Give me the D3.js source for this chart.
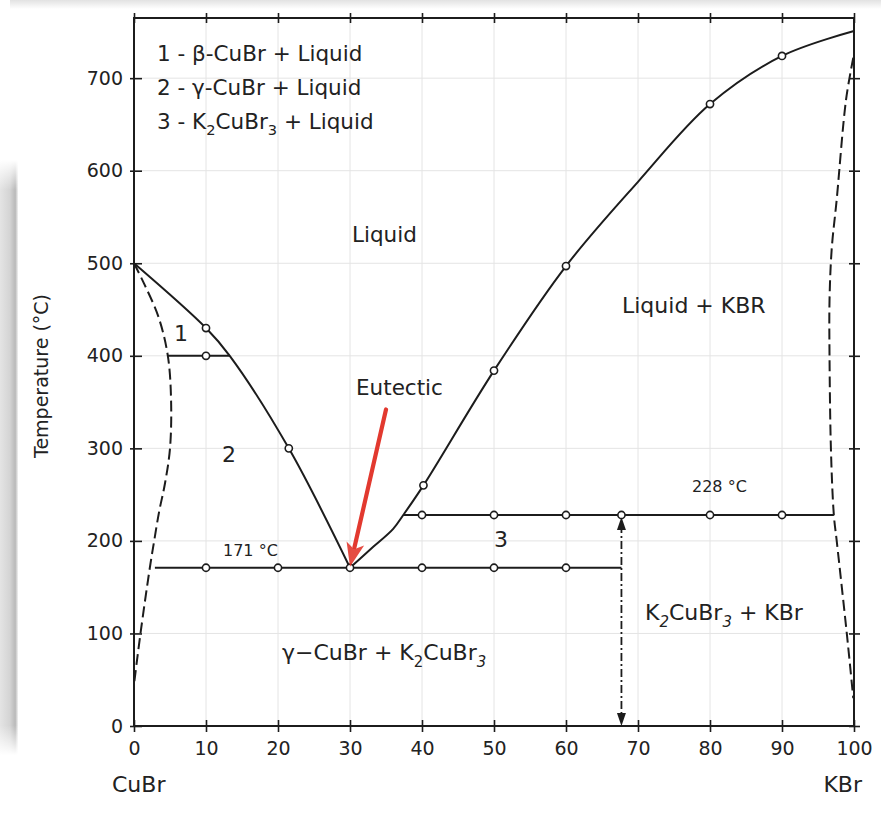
<!DOCTYPE html>
<html>
<head>
<meta charset="utf-8">
<script src="https://cdn.jsdelivr.net/npm/d3@7"></script>
<style>
  body { margin: 0; background: #fff; }
  svg { display: block; }
  text { font-family: "DejaVu Sans", sans-serif; fill: #222; }
</style>
</head>
<body>
<svg id="chart" width="881" height="821"></svg>
<script>
// ---- Data: CuBr–KBr phase diagram (composition in mol% KBr, temperature in °C)
const xTicks = [0, 10, 20, 30, 40, 50, 60, 70, 80, 90, 100];
const yTicks = [0, 100, 200, 300, 400, 500, 600, 700];
const tempMax = 765;

// liquidus, CuBr-rich branch
const liquidusCuBr = [[0, 500], [10, 430], [13.3, 400], [21.5, 300], [30, 171]];
// liquidus, KBr-rich branch (through the peritectic kink)
const liquidusKBr = [[30, 171], [33, 192], [36, 213], [37.4, 228], [40.2, 260], [50, 384],
                     [60, 497], [70, 588], [80, 672], [90, 724], [100, 751]];
// solid-solution boundaries (dashed)
const solvusCuBr = [[0, 500], [1.4, 478], [3.4, 442], [4.7, 400], [5.15, 352], [5.0, 300],
                    [4.3, 262], [3.5, 232], [2.8, 200], [2.2, 171], [0.9, 100], [0, 45]];
const solvusKBr = [[99.9, 722], [98.9, 677], [97.6, 569], [96.9, 515], [96.6, 460], [96.6, 400],
                   [96.8, 298], [97.2, 228], [97.6, 200], [99.0, 100], [99.9, 30]];

// horizontal invariants
const betaGamma = { t: 400, from: 4.7, to: 13.3 };
const eutectic = { t: 171, from: 2.9, to: 67.7 };
const peritectic = { t: 228, from: 37.4, to: 97.2 };
const compoundX = 67.7;   // K2CuBr3 composition

// measured points
const liquidusPoints = [[10, 430], [21.5, 300], [40.2, 260], [50, 384], [60, 497], [80, 672], [90, 724]];
const betaGammaPoints = [10];
const eutecticPoints = [10, 20, 30, 40, 50, 60];
const peritecticPoints = [40, 50, 60, 67.7, 80, 90];

// eutectic pointer
const eutecticArrow = { from: [35, 342], to: [30, 172] };

// ---- Layout
const svg = d3.select("#chart");
const x = d3.scaleLinear().domain([0, 100]).range([134, 854]);
const y = d3.scaleLinear().domain([0, tempMax]).range([726, 18]);
const ink = "#1c1c1c";

// page-edge shading
const defs = svg.append("defs");
const gL = defs.append("linearGradient").attr("id", "edgeL").attr("x1", 0).attr("x2", 1).attr("y1", 0).attr("y2", 0);
gL.append("stop").attr("offset", 0).attr("stop-color", "#e4e4e4");
gL.append("stop").attr("offset", 0.55).attr("stop-color", "#d4d4d4");
gL.append("stop").attr("offset", 0.85).attr("stop-color", "#b9b9b9");
gL.append("stop").attr("offset", 1).attr("stop-color", "#f2f2f2");
const gT = defs.append("linearGradient").attr("id", "edgeT").attr("x1", 0).attr("x2", 0).attr("y1", 0).attr("y2", 1);
gT.append("stop").attr("offset", 0).attr("stop-color", "#e2e2e2");
gT.append("stop").attr("offset", 1).attr("stop-color", "#ffffff");
const gV = defs.append("linearGradient").attr("id", "fadeV").attr("x1", 0).attr("x2", 0).attr("y1", 0).attr("y2", 1);
gV.append("stop").attr("offset", 0).attr("stop-color", "#fff").attr("stop-opacity", 1);
gV.append("stop").attr("offset", 0.05).attr("stop-color", "#fff").attr("stop-opacity", 0);
gV.append("stop").attr("offset", 0.95).attr("stop-color", "#fff").attr("stop-opacity", 0);
gV.append("stop").attr("offset", 1).attr("stop-color", "#fff").attr("stop-opacity", 1);
svg.append("rect").attr("x", 10).attr("y", 0).attr("width", 871).attr("height", 9).attr("fill", "url(#edgeT)");
svg.append("rect").attr("x", 0).attr("y", 160).attr("width", 18).attr("height", 595).attr("fill", "url(#edgeL)");
svg.append("rect").attr("x", 0).attr("y", 160).attr("width", 18).attr("height", 595).attr("fill", "url(#fadeV)");

// grid
const grid = svg.append("g").attr("stroke", "#e4e4e4").attr("stroke-width", 1);
grid.selectAll("line.v").data(xTicks.slice(1, -1)).join("line")
  .attr("x1", d => x(d)).attr("x2", d => x(d)).attr("y1", y(0)).attr("y2", y(tempMax));
grid.selectAll("line.h").data(yTicks.slice(1)).join("line")
  .attr("x1", x(0)).attr("x2", x(100)).attr("y1", d => y(d)).attr("y2", d => y(d));

// axes: ticks cross the frame on all four sides
function tickStyle(g) {
  g.select(".domain").remove();
  g.selectAll(".tick line").attr("stroke", ink).attr("stroke-width", 1.6);
}
const bottom = svg.append("g").attr("transform", `translate(0,${y(0)})`)
  .call(d3.axisBottom(x).tickValues(xTicks).tickSize(6).tickPadding(9));
bottom.call(tickStyle);
bottom.selectAll("text").attr("font-size", 19).attr("font-family", "DejaVu Sans").attr("fill", "#222").attr("y", 16);
svg.append("g").attr("transform", `translate(0,${y(0)})`)
  .call(d3.axisBottom(x).tickValues(xTicks).tickSize(-6).tickFormat("")).call(tickStyle);
svg.append("g").attr("transform", `translate(0,${y(tempMax)})`)
  .call(d3.axisTop(x).tickValues(xTicks).tickSize(5).tickFormat("")).call(tickStyle);
svg.append("g").attr("transform", `translate(0,${y(tempMax)})`)
  .call(d3.axisTop(x).tickValues(xTicks).tickSize(-5).tickFormat("")).call(tickStyle);

const left = svg.append("g").attr("transform", `translate(${x(0)},0)`)
  .call(d3.axisLeft(y).tickValues(yTicks).tickSize(4).tickPadding(7));
left.call(tickStyle);
left.selectAll("text").attr("font-size", 19).attr("font-family", "DejaVu Sans").attr("fill", "#222");
svg.append("g").attr("transform", `translate(${x(0)},0)`)
  .call(d3.axisLeft(y).tickValues(yTicks).tickSize(-8).tickFormat("")).call(tickStyle);
svg.append("g").attr("transform", `translate(${x(100)},0)`)
  .call(d3.axisRight(y).tickValues(yTicks).tickSize(6).tickFormat("")).call(tickStyle);
svg.append("g").attr("transform", `translate(${x(100)},0)`)
  .call(d3.axisRight(y).tickValues(yTicks).tickSize(-5).tickFormat("")).call(tickStyle);

// frame
svg.append("rect").attr("x", x(0)).attr("y", y(tempMax))
  .attr("width", x(100) - x(0)).attr("height", y(0) - y(tempMax))
  .attr("fill", "none").attr("stroke", ink).attr("stroke-width", 2);

// phase boundaries
const smooth = d3.line().x(d => x(d[0])).y(d => y(d[1])).curve(d3.curveCatmullRom.alpha(0.5));
const lines = svg.append("g").attr("fill", "none").attr("stroke", ink).attr("stroke-linejoin", "round");
lines.append("path").attr("d", smooth(liquidusCuBr)).attr("stroke-width", 2);
lines.append("path").attr("d", smooth(liquidusKBr)).attr("stroke-width", 2);
lines.append("path").attr("d", smooth(solvusCuBr)).attr("stroke-width", 2).attr("stroke-dasharray", "11,5");
lines.append("path").attr("d", smooth(solvusKBr)).attr("stroke-width", 2).attr("stroke-dasharray", "11,5");

[betaGamma, eutectic, peritectic].forEach(h => {
  lines.append("line").attr("x1", x(h.from)).attr("x2", x(h.to))
    .attr("y1", y(h.t)).attr("y2", y(h.t)).attr("stroke-width", 2);
});

// compound composition: dash-dot line with arrowheads
lines.append("line").attr("x1", x(compoundX)).attr("x2", x(compoundX))
  .attr("y1", y(peritectic.t) + 10).attr("y2", y(0) - 10)
  .attr("stroke-width", 1.8).attr("stroke-dasharray", "8,3,2,3");
const cx = x(compoundX);
svg.append("path").attr("fill", ink)
  .attr("d", `M${cx},${y(peritectic.t) + 2} L${cx - 4.5},${y(peritectic.t) + 15} L${cx + 4.5},${y(peritectic.t) + 15} Z`);
svg.append("path").attr("fill", ink)
  .attr("d", `M${cx},${y(0)} L${cx - 4.5},${y(0) - 13} L${cx + 4.5},${y(0) - 13} Z`);

// data points
const pts = svg.append("g").attr("fill", "#fff").attr("stroke", ink).attr("stroke-width", 1.6);
const allPts = liquidusPoints
  .concat(betaGammaPoints.map(v => [v, betaGamma.t]))
  .concat(eutecticPoints.map(v => [v, eutectic.t]))
  .concat(peritecticPoints.map(v => [v, peritectic.t]));
pts.selectAll("circle").data(allPts).join("circle")
  .attr("cx", d => x(d[0])).attr("cy", d => y(d[1])).attr("r", 3.6);

// eutectic pointer (red arrow)
{
  const [x0, y0] = [x(eutecticArrow.from[0]), y(eutecticArrow.from[1])];
  const [x1, y1] = [x(eutecticArrow.to[0]), y(eutecticArrow.to[1])];
  const dx = x1 - x0, dy = y1 - y0, len = Math.hypot(dx, dy);
  const ux = dx / len, uy = dy / len, px = -uy, py = ux;
  const headL = 24, headW = 9;
  const bx = x1 - ux * headL, by = y1 - uy * headL;
  const red = "#e2392f";
  svg.append("line").attr("x1", x0).attr("y1", y0).attr("x2", bx + ux * 4).attr("y2", by + uy * 4)
    .attr("stroke", red).attr("stroke-width", 4.2).attr("stroke-linecap", "round");
  svg.append("path").attr("fill", red).attr("opacity", 0.9)
    .attr("d", `M${x1},${y1} L${bx + px * headW},${by + py * headW} L${bx + ux * 6},${by + uy * 6} L${bx - px * headW},${by - py * headW} Z`);
}

// ---- Labels
function label(parts, px, py, size, anchor) {
  const t = svg.append("text").attr("x", px).attr("y", py).attr("font-size", size)
    .attr("text-anchor", anchor || "start");
  let shift = 0;
  parts.forEach(p => {
    if (typeof p === "string") {
      t.append("tspan").attr("dy", -shift).text(p);
      shift = 0;
    } else {
      const s = size * 0.3;
      t.append("tspan").attr("dy", s - shift).attr("font-size", size * 0.68)
        .attr("font-style", p.italic ? "italic" : "normal").text(p.sub);
      shift = s;
    }
  });
  return t;
}

label(["1 - β-CuBr + Liquid"], 157, 61, 21.5);
label(["2 - γ-CuBr + Liquid"], 157, 95, 21.5);
label(["3 - K", { sub: "2" }, "CuBr", { sub: "3" }, " + Liquid"], 157, 129, 21.5);

label(["Liquid"], 352, 242, 21.5);
label(["Liquid + KBR"], 622, 313, 22);
label(["Eutectic"], 356, 395, 21.5);
label(["1"], 181, 341, 22, "middle");
label(["2"], 229, 462, 22, "middle");
label(["3"], 501, 547, 22, "middle");
label(["171 °C"], 223, 556, 16);
label(["228 °C"], 692, 492, 16);
label(["γ−CuBr + K", { sub: "2" }, "CuBr", { sub: "3", italic: true }], 282, 660, 22);
label(["K", { sub: "2", italic: true }, "CuBr", { sub: "3", italic: true }, " + KBr"], 645, 620, 22);

label(["CuBr"], 112, 792, 22);
label(["KBr"], 862, 792, 22, "end");

svg.append("text").attr("transform", `translate(48,${(y(0) + y(tempMax)) / 2 + 4}) rotate(-90)`)
  .attr("text-anchor", "middle").attr("font-size", 19).text("Temperature (°C)");
</script>
</body>
</html>
